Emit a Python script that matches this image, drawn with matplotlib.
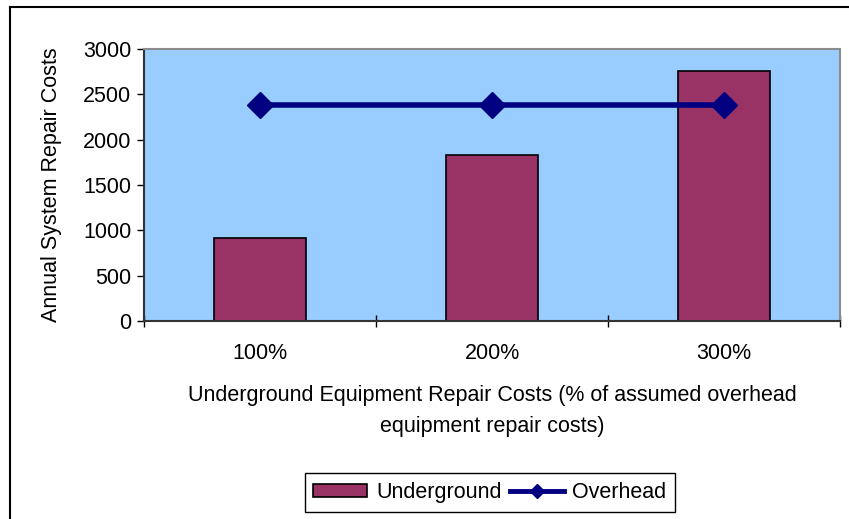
import matplotlib.pyplot as plt
from matplotlib.lines import Line2D
import numpy as np

plt.rcParams['font.family'] = ['Liberation Sans', 'DejaVu Sans']

categories = ['100%', '200%', '300%']
underground = [920, 1835, 2760]
overhead = [2385, 2385, 2385]

W, H = 849, 519
FS = 15.5
fig = plt.figure(figsize=(W / 100, H / 100), dpi=100)
ax = fig.add_axes([144 / W, (H - 321) / H, 696 / W, 272 / H])

x = np.arange(1, len(categories) + 1)
ax.set_facecolor('#99ccff')
ax.bar(x, underground, width=0.4, color='#993366', edgecolor='black',
       linewidth=1.2, label='Underground', zorder=2)
ax.plot(x, overhead, color='#000080', linewidth=4, marker='D',
        markersize=13, label='Overhead', zorder=3)

ax.set_xlim(0.5, 3.5)
ax.set_ylim(0, 3000)
ax.set_yticks(range(0, 3001, 500))
ax.set_xticks([0.5, 1.5, 2.5, 3.5])
ax.set_xticklabels([])
ax.set_xticks(x, minor=True)
ax.set_xticklabels(categories, minor=True)
ax.tick_params(axis='x', which='major', direction='inout', length=9, width=1, color='black')
ax.tick_params(axis='x', which='minor', length=0, pad=16, labelsize=FS)
ax.tick_params(axis='y', direction='out', length=5, width=1, labelsize=FS, pad=4)

for s in ['top', 'right']:
    ax.spines[s].set_color('#8c8c8c')
    ax.spines[s].set_linewidth(1.5)
for s in ['left', 'bottom']:
    ax.spines[s].set_color('#333333')
    ax.spines[s].set_linewidth(1.5)

ax.set_ylabel('Annual System Repair Costs', fontsize=FS)
ax.yaxis.set_label_coords((62 - 144) / 696, 0.5)
fig.text(492 / W, 1 - 411 / H,
         'Underground Equipment Repair Costs (% of assumed overhead\nequipment repair costs)',
         ha='center', va='center', fontsize=FS, linespacing=1.63)

handles = [plt.Rectangle((0, 0), 1, 1, facecolor='#993366', edgecolor='black', linewidth=1.2),
           Line2D([0], [0], color='#000080', linewidth=3.5, marker='D', markersize=7)]
leg = fig.legend(handles, ['Underground', 'Overhead'], loc='center',
                 bbox_to_anchor=(490 / W, 1 - 492.5 / H), ncol=2, fontsize=FS,
                 fancybox=False, framealpha=1, edgecolor='black', handlelength=2.5,
                 handleheight=0.6, columnspacing=0.4, handletextpad=0.4, borderpad=0.4)
leg.get_frame().set_linewidth(1.0)

# chart border (partly cropped in the original)
fig.add_artist(Line2D([10 / W, 10 / W], [0, 1 - 7 / H], color='black', linewidth=1.5))
fig.add_artist(Line2D([10 / W, 1], [1 - 7 / H, 1 - 7 / H], color='black', linewidth=1.5))

fig.savefig('out.png', dpi=100)
